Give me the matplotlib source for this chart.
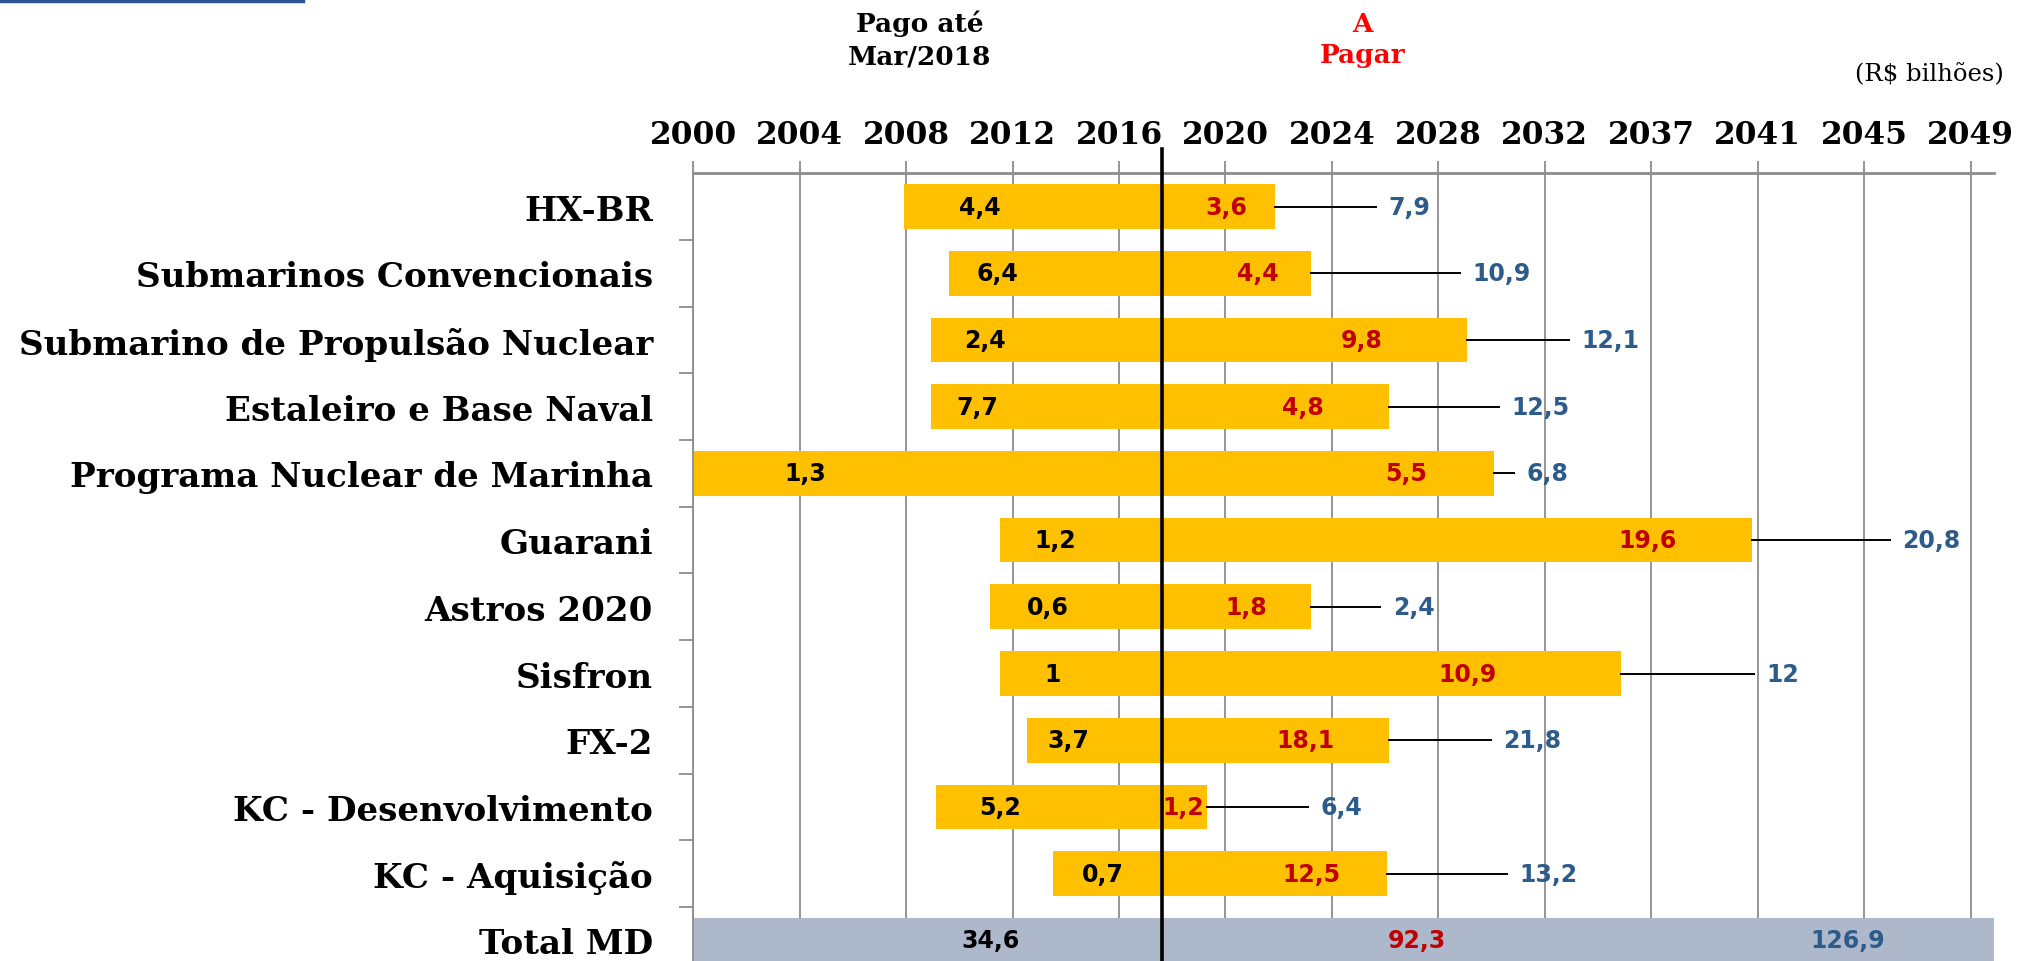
import numpy as np
import matplotlib
matplotlib.use("Agg")
import matplotlib.pyplot as plt
from matplotlib.lines import Line2D

# programas e valores (R$ bilhoes)
programs = ["HX-BR", "Submarinos Convencionais", "Submarino de Propulsão Nuclear",
            "Estaleiro e Base Naval", "Programa Nuclear de Marinha", "Guarani",
            "Astros 2020", "Sisfron", "FX-2", "KC - Desenvolvimento", "KC - Aquisição"]
paid = ["4,4", "6,4", "2,4", "7,7", "1,3", "1,2", "0,6", "1", "3,7", "5,2", "0,7"]
due = ["3,6", "4,4", "9,8", "4,8", "5,5", "19,6", "1,8", "10,9", "18,1", "1,2", "12,5"]
total = ["7,9", "10,9", "12,1", "12,5", "6,8", "20,8", "2,4", "12", "21,8", "6,4", "13,2"]

# inicio e fim de cada programa (anos)
start = [2008.1, 2009.8, 2009.1, 2009.1, 2000.0, 2011.75, 2011.4, 2011.75, 2012.8, 2009.3, 2013.8]
end = [2022.3, 2023.7, 2029.7, 2026.7, 2030.7, 2040.6, 2023.7, 2035.6, 2026.7, 2019.7, 2026.6]
leader_end = [2026.2, 2029.4, 2033.6, 2030.9, 2031.5, 2045.9, 2026.35, 2040.7, 2030.6, 2023.6, 2031.2]

total_label = "Total MD"
total_vals = ["34,6", "92,3", "126,9"]

cutoff = 2018.0  # Mar/2018
tick_labels = ["2000", "2004", "2008", "2012", "2016", "2020", "2024", "2028",
               "2032", "2037", "2041", "2045", "2049"]

# posicoes dos rotulos dentro das barras
paid_lbl_x = [2011.0, 2011.65, 2011.2, 2010.9, 2004.3, 2013.9, 2013.6, 2013.8, 2014.4, 2011.75, 2015.7]
due_lbl_x = [2020.46, 2021.67, 2025.65, 2023.4, 2027.36, 2036.6, 2021.2, 2029.7, 2023.5, 2018.8, 2023.7]
total_lbl_x = [2011.4, 2027.75, 2044.3]

YELLOW = "#FFC000"
GREY = "#ADB9CA"
RED = "#C00000"
BLUE = "#2E5C8A"
GRID = "#8C8C8C"

fig = plt.figure(figsize=(20.17, 9.62), dpi=100)
ax = fig.add_axes([693.3 / 2017, 0, (1994 - 693.3) / 2017, (962 - 174.3) / 962])

xmax = 2049.9
ax.set_xlim(2000, xmax)
ax.set_ylim(11.31, -0.5)

y = np.arange(len(programs))
ax.barh(y, np.array(end) - np.array(start), left=start, height=0.67, color=YELLOW, zorder=2)
ax.barh(len(programs), xmax - 2000, left=2000, height=0.67, color=GREY, zorder=2)

for i in range(len(programs)):
    ax.plot([end[i], leader_end[i]], [i, i], color="black", lw=1.4, zorder=3)
    ax.text(paid_lbl_x[i], i, paid[i], ha="center", va="center", fontsize=17,
            fontweight="bold", color="black", zorder=4)
    ax.text(due_lbl_x[i], i, due[i], ha="center", va="center", fontsize=17,
            fontweight="bold", color=RED, zorder=4)
    ax.annotate(total[i], (leader_end[i], i), xytext=(9, 0), textcoords="offset points",
                ha="left", va="center", fontsize=17, fontweight="bold", color=BLUE)

t = len(programs)
for x, s, c in zip(total_lbl_x, total_vals, ["black", RED, BLUE]):
    ax.text(x, t, s, ha="center", va="center", fontsize=17, fontweight="bold", color=c, zorder=4)

# linha de corte Mar/2018
ax.plot([cutoff, cutoff], [-0.5 - 24 / 66.7, 11.31], color="black", lw=2.6, zorder=5, clip_on=False)

# eixos
ax.xaxis.tick_top()
ax.set_xticks(np.linspace(2000, 2049, len(tick_labels)))
ax.set_xticklabels(tick_labels, fontsize=22.5, fontweight="bold", family="DejaVu Serif")
ax.tick_params(axis="x", direction="out", length=9, width=1.3, color=GRID, pad=8)
ax.set_yticks(np.arange(len(programs) + 1))
ax.set_yticklabels(programs + [total_label], fontsize=24.6, fontweight="bold", family="DejaVu Serif")
ax.tick_params(axis="y", which="major", length=0, pad=29)
ax.set_yticks(np.arange(0.5, len(programs)), minor=True)
ax.tick_params(axis="y", which="minor", direction="out", length=10, width=1.3, color=GRID)
ax.grid(axis="x", color=GRID, lw=1.3, zorder=0)
ax.set_axisbelow(True)
for side in ["right", "bottom"]:
    ax.spines[side].set_visible(False)
ax.spines["top"].set_color(GRID)
ax.spines["top"].set_linewidth(2)
ax.spines["left"].set_color(GRID)
ax.spines["left"].set_linewidth(1.3)

# cabecalhos
fig.text(920 / 2017, 1 - 40 / 962, "Pago até\nMar/2018", ha="center", va="center",
         fontsize=19, fontweight="bold", family="DejaVu Serif", linespacing=1.35)
fig.text(1363 / 2017, 1 - 40 / 962, "A\nPagar", ha="center", va="center",
         fontsize=19, fontweight="bold", family="DejaVu Serif", color="#FF0000", linespacing=1.35)
fig.text(2004 / 2017, 1 - 75 / 962, "(R$ bilhões)", ha="right", va="center",
         fontsize=17.5, family="DejaVu Serif")
fig.add_artist(Line2D([0, 303 / 2017], [1 - 1.5 / 962] * 2, color="#2F5496", lw=2.5))

fig.savefig("out.png", dpi=100)
